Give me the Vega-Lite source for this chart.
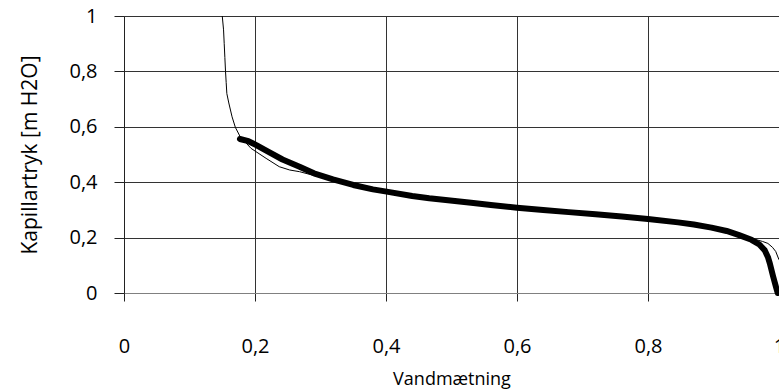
{
  "$schema": "https://vega.github.io/schema/vega-lite/v6.json",
  "width": 655,
  "height": 277,
  "autosize": {"type": "none"},
  "padding": {"left": 124, "top": 16, "right": 0, "bottom": 98},
  "background": "white",
  "config": {
    "view": {"stroke": null},
    "font": "Open Sans",
    "axis": {
      "labelFont": "Open Sans",
      "titleFont": "Open Sans",
      "labelFontSize": 20,
      "titleFontSize": 18,
      "titleFontWeight": "normal",
      "labelColor": "black",
      "titleColor": "black",
      "gridColor": "#333",
      "gridOpacity": 1,
      "gridWidth": 1,
      "tickColor": "#222",
      "tickWidth": 1,
      "domainWidth": 1
    }
  },
  "datasets": {
    "thin": [
      {"s": 0.150, "p": 1.000},
      {"s": 0.152, "p": 0.950},
      {"s": 0.153, "p": 0.900},
      {"s": 0.154, "p": 0.850},
      {"s": 0.155, "p": 0.800},
      {"s": 0.156, "p": 0.760},
      {"s": 0.157, "p": 0.720},
      {"s": 0.160, "p": 0.686},
      {"s": 0.165, "p": 0.636},
      {"s": 0.170, "p": 0.598},
      {"s": 0.177, "p": 0.566},
      {"s": 0.185, "p": 0.545},
      {"s": 0.194, "p": 0.522},
      {"s": 0.217, "p": 0.486},
      {"s": 0.237, "p": 0.456},
      {"s": 0.253, "p": 0.444},
      {"s": 0.268, "p": 0.438},
      {"s": 0.300, "p": 0.418},
      {"s": 0.350, "p": 0.388},
      {"s": 0.400, "p": 0.364},
      {"s": 0.500, "p": 0.332},
      {"s": 0.600, "p": 0.306},
      {"s": 0.700, "p": 0.287},
      {"s": 0.800, "p": 0.266},
      {"s": 0.900, "p": 0.237},
      {"s": 0.940, "p": 0.212},
      {"s": 0.963, "p": 0.194},
      {"s": 0.975, "p": 0.186},
      {"s": 0.983, "p": 0.179},
      {"s": 0.990, "p": 0.165},
      {"s": 0.995, "p": 0.150},
      {"s": 1.000, "p": 0.120}
    ],
    "thick": [
      {"s": 0.177, "p": 0.556},
      {"s": 0.190, "p": 0.548},
      {"s": 0.202, "p": 0.534},
      {"s": 0.220, "p": 0.510},
      {"s": 0.242, "p": 0.482},
      {"s": 0.268, "p": 0.456},
      {"s": 0.290, "p": 0.432},
      {"s": 0.319, "p": 0.410},
      {"s": 0.350, "p": 0.390},
      {"s": 0.380, "p": 0.374},
      {"s": 0.401, "p": 0.366},
      {"s": 0.440, "p": 0.350},
      {"s": 0.466, "p": 0.342},
      {"s": 0.491, "p": 0.336},
      {"s": 0.530, "p": 0.326},
      {"s": 0.560, "p": 0.318},
      {"s": 0.600, "p": 0.308},
      {"s": 0.640, "p": 0.300},
      {"s": 0.679, "p": 0.292},
      {"s": 0.720, "p": 0.284},
      {"s": 0.760, "p": 0.276},
      {"s": 0.800, "p": 0.267},
      {"s": 0.846, "p": 0.255},
      {"s": 0.870, "p": 0.247},
      {"s": 0.897, "p": 0.236},
      {"s": 0.920, "p": 0.224},
      {"s": 0.938, "p": 0.210},
      {"s": 0.958, "p": 0.192},
      {"s": 0.970, "p": 0.175},
      {"s": 0.978, "p": 0.155},
      {"s": 0.983, "p": 0.130},
      {"s": 0.986, "p": 0.107},
      {"s": 0.991, "p": 0.060},
      {"s": 0.995, "p": 0.025},
      {"s": 0.998, "p": 0.000}
    ]
  },
  "encoding": {
    "x": {
      "field": "s",
      "type": "quantitative",
      "scale": {"domain": [0, 1], "nice": false, "zero": false},
      "axis": {
        "title": "Vandmætning",
        "values": [0, 0.2, 0.4, 0.6, 0.8, 1],
        "labelExpr": "replace(format(datum.value, '~g'), '.', ',')",
        "tickSize": 8,
        "labelPadding": 35,
        "titleY": 91,
        "titleBaseline": "alphabetic",
        "domainColor": "#808080",
        "labelFlush": false,
        "labelOverlap": false
      }
    },
    "y": {
      "field": "p",
      "type": "quantitative",
      "scale": {"domain": [0, 1], "nice": false},
      "axis": {
        "title": "Kapillartryk [m H2O]",
        "titleFontSize": 21,
        "values": [0, 0.2, 0.4, 0.6, 0.8, 1],
        "labelExpr": "replace(format(datum.value, '~g'), '.', ',')",
        "tickSize": 10,
        "labelPadding": 17,
        "titlePadding": 28,
        "domainColor": "#222",
        "labelFlush": false,
        "labelOverlap": false
      }
    }
  },
  "layer": [
    {
      "data": {"name": "thick"},
      "mark": {"type": "line", "color": "black", "strokeWidth": 6, "strokeCap": "round", "strokeJoin": "round", "clip": false}
    },
    {
      "data": {"name": "thin"},
      "mark": {"type": "line", "color": "black", "strokeWidth": 1, "clip": false}
    }
  ]
}
